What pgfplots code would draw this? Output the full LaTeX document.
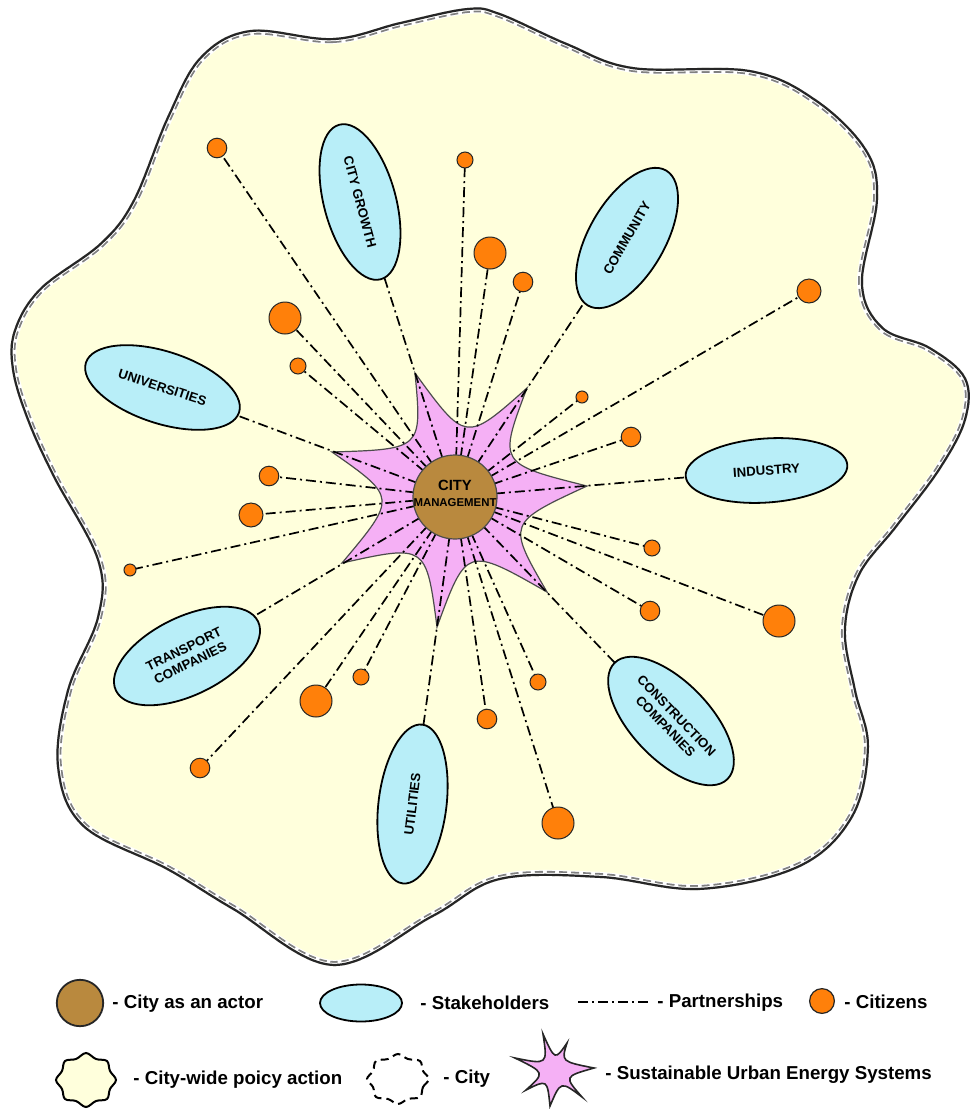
\documentclass[border=0pt]{standalone}
\usepackage{pgfplots}
\pgfplotsset{compat=1.18}
\usetikzlibrary{shapes.geometric}
\usepackage{fontspec}
\setmainfont{Liberation Sans}
\definecolor{blobfill}{RGB}{255,255,220}
\definecolor{stakecyan}{RGB}{184,238,248}
\definecolor{citorange}{RGB}{255,128,10}
\definecolor{cmbrown}{RGB}{185,137,62}
\definecolor{starpink}{RGB}{245,176,245}
\def\blob{plot[smooth cycle, tension=0.6] coordinates {(250,30) (333,38) (400,22) (467,8) (500,13) (567,43) (633,67) (750,70) (817,100) (867,150) (878,200) (863,283) (883,327) (930,347) (966,378) (966,420) (940,470) (897,527) (860,575) (846,630) (856,690) (869,747) (853,817) (800,867) (700,890) (600,878) (500,880) (433,917) (333,966) (233,910) (167,870) (83,827) (57,767) (67,690) (97,617) (97,560) (53,477) (27,420) (12,370) (14,330) (40,288) (100,243) (133,200) (167,117) (200,57)}}
\tikzset{
  stake/.style={ellipse, draw=black, line width=0.9pt, fill=stakecyan, inner sep=0pt, align=center, font=\bfseries\fontsize{6.6}{7.6}\selectfont},
  leg/.style={anchor=base west, inner sep=0pt, font=\bfseries\fontsize{9.35}{11}\selectfont},
  partner/.style={black, line width=0.85pt, dash pattern=on 5pt off 2pt on 1pt off 2pt}
}
\begin{document}
\begin{tikzpicture}
\begin{axis}[hide axis, scale only axis, width=485pt, height=554.5pt,
  xmin=0, xmax=970, ymin=0, ymax=1109, y dir=reverse, clip=false, clip mode=individual]
% city-wide policy area
\fill[blobfill] \blob;
\begin{scope}
\clip \blob;
\draw[white, line width=6pt] \blob;
\draw[gray, line width=5pt, dash pattern=on 4pt off 2pt] \blob;
\draw[white, line width=3.2pt] \blob;
\draw[black!85, line width=2.2pt] \blob;
\end{scope}
% sustainable urban energy system star
\filldraw[fill=starpink, draw=black!70, line width=0.6pt]
 (415,373) .. controls (465.7,442.5) .. (527,388)
 .. controls (498.3,463.7) .. (587,486)
 .. controls (507,523) .. (547,592)
 .. controls (466.7,546.2) .. (437,627)
 .. controls (426.2,544.3) .. (342,563)
 .. controls (397,497.5) .. (332,452)
 .. controls (422.2,449.2) .. (415,373) -- cycle;
% partnerships
\addplot[partner, unbounded coords=jump] coordinates {
 (455,497) (217,148) (0,nan)
 (455,497) (465,160) (0,nan)
 (455,497) (490,253) (0,nan)
 (455,497) (523,282) (0,nan)
 (455,497) (809,291) (0,nan)
 (455,497) (285,318) (0,nan)
 (455,497) (298,366) (0,nan)
 (455,497) (582,397) (0,nan)
 (455,497) (631,437) (0,nan)
 (455,497) (269,476) (0,nan)
 (455,497) (251,515) (0,nan)
 (455,497) (130,570) (0,nan)
 (455,497) (652,548) (0,nan)
 (455,497) (650,611) (0,nan)
 (455,497) (779,621) (0,nan)
 (455,497) (361,677) (0,nan)
 (455,497) (316,701) (0,nan)
 (455,497) (538,682) (0,nan)
 (455,497) (487,719) (0,nan)
 (455,497) (200,768) (0,nan)
 (455,497) (558,823) (0,nan)
 (455,497) (360,202) (0,nan)
 (455,497) (627,238) (0,nan)
 (455,497) (162.5,387.5) (0,nan)
 (455,497) (766.5,470.5) (0,nan)
 (455,497) (187,656) (0,nan)
 (455,497) (412.5,804) (0,nan)
 (455,497) (671,721)
};
% city as an actor
\addplot[only marks, mark=*, mark size=21pt, mark options={fill=cmbrown, draw=black!70, line width=0.6pt}] coordinates {(455,497)};
\node[font=\bfseries\fontsize{7.4}{8}\selectfont, inner sep=0pt] at (455,485) {CITY};
\node[font=\bfseries\fontsize{5.7}{6}\selectfont, inner sep=0pt] at (455,503) {MANAGEMENT};
% stakeholders
\node[stake, minimum width=80pt, minimum height=36pt, rotate=-75] at (360,202) {CITY GROWTH};
\node[stake, minimum width=78pt, minimum height=38pt, rotate=60] at (627,238) {COMMUNITY};
\node[stake, minimum width=80.5pt, minimum height=36pt, rotate=-18] at (162.5,387.5) {UNIVERSITIES};
\node[stake, minimum width=81pt, minimum height=32pt, rotate=4] at (766.5,470.5) {INDUSTRY};
\node[stake, minimum width=79pt, minimum height=39pt, rotate=26] at (187,656) {TRANSPORT\\COMPANIES};
\node[stake, minimum width=80pt, minimum height=34pt, rotate=83] at (412.5,804) {UTILITIES};
\node[stake, minimum width=81pt, minimum height=39pt, rotate=-46] at (671,721) {CONSTRUCTION\\COMPANIES};
% citizens
\pgfplotsset{citizen/.style={only marks, mark=*, mark options={fill=citorange, draw=black!85, line width=0.5pt}}}
\addplot[citizen, mark size=3pt] coordinates {(582,397) (130,570)};
\addplot[citizen, mark size=4pt] coordinates {(465,160) (298,366) (652,548) (361,677) (538,682)};
\addplot[citizen, mark size=4.9pt] coordinates {(217,148) (523,282) (631,437) (269,476) (650,611) (487,719) (200,768)};
\addplot[citizen, mark size=6pt] coordinates {(809,291) (251,515)};
\addplot[citizen, mark size=8pt] coordinates {(490,253) (285,318) (779,621) (316,701) (558,823)};
% ---------------- legend ----------------
\addplot[only marks, mark=*, mark size=11.6pt, mark options={fill=cmbrown, draw=black!85, line width=0.9pt}] coordinates {(80,1003)};
\node[leg] at (112,1008) {- City as an actor};
\node[ellipse, draw=black, line width=0.9pt, fill=stakecyan, minimum width=41pt, minimum height=18.5pt, inner sep=0pt] at (361,1003) {};
\node[leg] at (420,1009) {- Stakeholders};
\addplot[partner] coordinates {(578,1002) (648,1002)};
\node[leg] at (657,1007) {- Partnerships};
\addplot[only marks, mark=*, mark size=6.2pt, mark options={fill=citorange, draw=black!85, line width=0.6pt}] coordinates {(822,1001)};
\node[leg] at (844,1008) {- Citizens};
\filldraw[fill=blobfill, draw=black, line width=1pt] plot[smooth cycle, tension=0.6] coordinates {(116,1080) (110,1089) (107,1099) (96,1101) (86,1107) (76,1101) (65,1099) (62,1089) (56,1080) (62,1071) (65,1061) (76,1059) (86,1053) (96,1059) (107,1061) (110,1071)};
\node[leg] at (133,1084) {- City-wide poicy action};
\draw[black, line width=1pt, dash pattern=on 4pt off 2.5pt] plot[smooth cycle, tension=0.6] coordinates {(429,1079) (423,1087) (420,1097) (408,1099) (398,1104) (388,1099) (376,1097) (373,1087) (367,1079) (373,1071) (376,1061) (388,1059) (398,1054) (408,1059) (420,1061) (423,1071)};
\node[leg] at (443,1083) {- City};
\filldraw[fill=starpink, draw=black!85, line width=0.8pt]
 (543,1034) .. controls (555,1060.5) .. (567,1043)
 .. controls (561.2,1061.5) .. (594,1068)
 .. controls (564,1076.5) .. (582,1097)
 .. controls (560.7,1080.8) .. (550,1106)
 .. controls (547.3,1079.3) .. (526,1090)
 .. controls (545.2,1072.7) .. (515,1058)
 .. controls (547.7,1064.7) .. (543,1034) -- cycle;
\node[leg] at (605,1079) {- Sustainable Urban Energy Systems};
\end{axis}
\pgfresetboundingbox
\path[use as bounding box] (current axis.south west) rectangle (current axis.north east);
\end{tikzpicture}
\end{document}
